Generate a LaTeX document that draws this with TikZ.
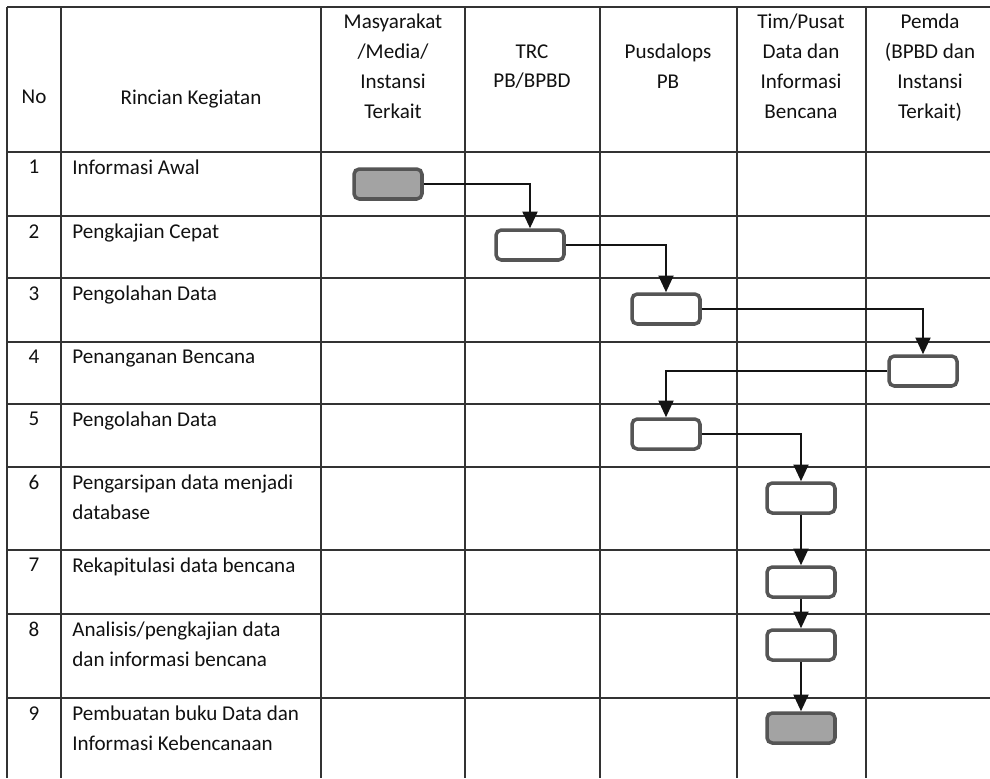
\documentclass[tikz,border=0pt]{standalone}
\usepackage{fontspec}
\setsansfont{Carlito}
\usetikzlibrary{arrows.meta}
\tikzset{every picture/.style={/utils/exec={\sffamily}}}
\definecolor{MyLine}{HTML}{333333}
\definecolor{MyBox}{HTML}{555555}
\definecolor{MyFill}{HTML}{A3A3A3}
\definecolor{MyText}{HTML}{111111}

\begin{document}
\begin{tikzpicture}[x=0.02cm, y=-0.02cm,
			every node/.style={font=\fontsize{12}{17}\selectfont, text=MyText, inner sep=0pt},
			grid/.style={draw=MyLine, line width=0.85pt},
			hdr/.style={anchor=north, align=center},
			num/.style={anchor=north},
			task/.style={anchor=north west, align=left},
			act/.style={draw=MyBox, line width=2pt, rounded corners=3pt, minimum width=1.36cm, minimum height=0.6cm, fill=white},
			actEnd/.style={act, fill=MyFill},
			flow/.style={draw=black!92, line width=1.3pt, -{Triangle[width=8.5pt,length=9.5pt]}}
		]
		\useasboundingbox (0,0) rectangle (990,778);
		% table grid
		\foreach \y in {7,152,216,278,342,404,467,550,614,698}
			\draw[grid] (7,\y) -- (990,\y);
		\foreach \x in {7,61,321,465,600,737,866}
			\draw[grid] (\x,7) -- (\x,778);
		% header
		\node (hNo) [hdr] at (34,90) {No};
		\node (hRincian) [hdr] at (191,90) {Rincian Kegiatan};
		\node (hMasyarakat) [hdr] at (393,14) {Masyarakat\\/Media/\\Instansi\\Terkait};
		\node (hTrc) [hdr] at (532,44) {TRC\\PB/BPBD};
		\node (hPusdalops) [hdr] at (668,44) {Pusdalops\\PB};
		\node (hTim) [hdr] at (801,14) {Tim/Pusat\\Data dan\\Informasi\\Bencana};
		\node (hPemda) [hdr] at (930,14) {Pemda\\(BPBD dan\\Instansi\\Terkait)};
		% rows
		\foreach \i/\top/\txt in {1/152/{Informasi Awal},
				2/216/{Pengkajian Cepat},
				3/278/{Pengolahan Data},
				4/342/{Penanganan Bencana},
				5/404/{Pengolahan Data},
				6/467/{Pengarsipan data menjadi\\database},
				7/550/{Rekapitulasi data bencana},
				8/614/{Analisis/pengkajian data\\dan informasi bencana},
				9/698/{Pembuatan buku Data dan\\Informasi Kebencanaan}}
		{
			\node (num\i) [num] at (34,\top+8) {\i};
			\node (task\i) [task] at (72,\top+7.5) {\txt};
		}
		% activity boxes
		\node (awal) [actEnd] at (388,184) {};
		\node (kaji) [act] at (530,245) {};
		\node (olah) [act] at (666,309) {};
		\node (tangani) [act] at (923,371) {};
		\node (olahLagi) [act] at (666,434) {};
		\node (arsip) [act] at (801,498) {};
		\node (rekap) [act] at (801,582) {};
		\node (analisis) [act] at (801,645) {};
		\node (buku) [actEnd] at (801,728) {};
		% flow
		\draw[flow] (awal.east) -| (kaji.north);
		\draw[flow] (kaji.east) -| (olah.north);
		\draw[flow] (olah.east) -| (tangani.north);
		\draw[flow] (tangani.west) -| (olahLagi.north);
		\draw[flow] (olahLagi.east) -| (arsip.north);
		\draw[flow] (arsip) -- (rekap);
		\draw[flow] (rekap) -- (analisis);
		\draw[flow] (analisis) -- (buku);
	\end{tikzpicture}
\end{document}
